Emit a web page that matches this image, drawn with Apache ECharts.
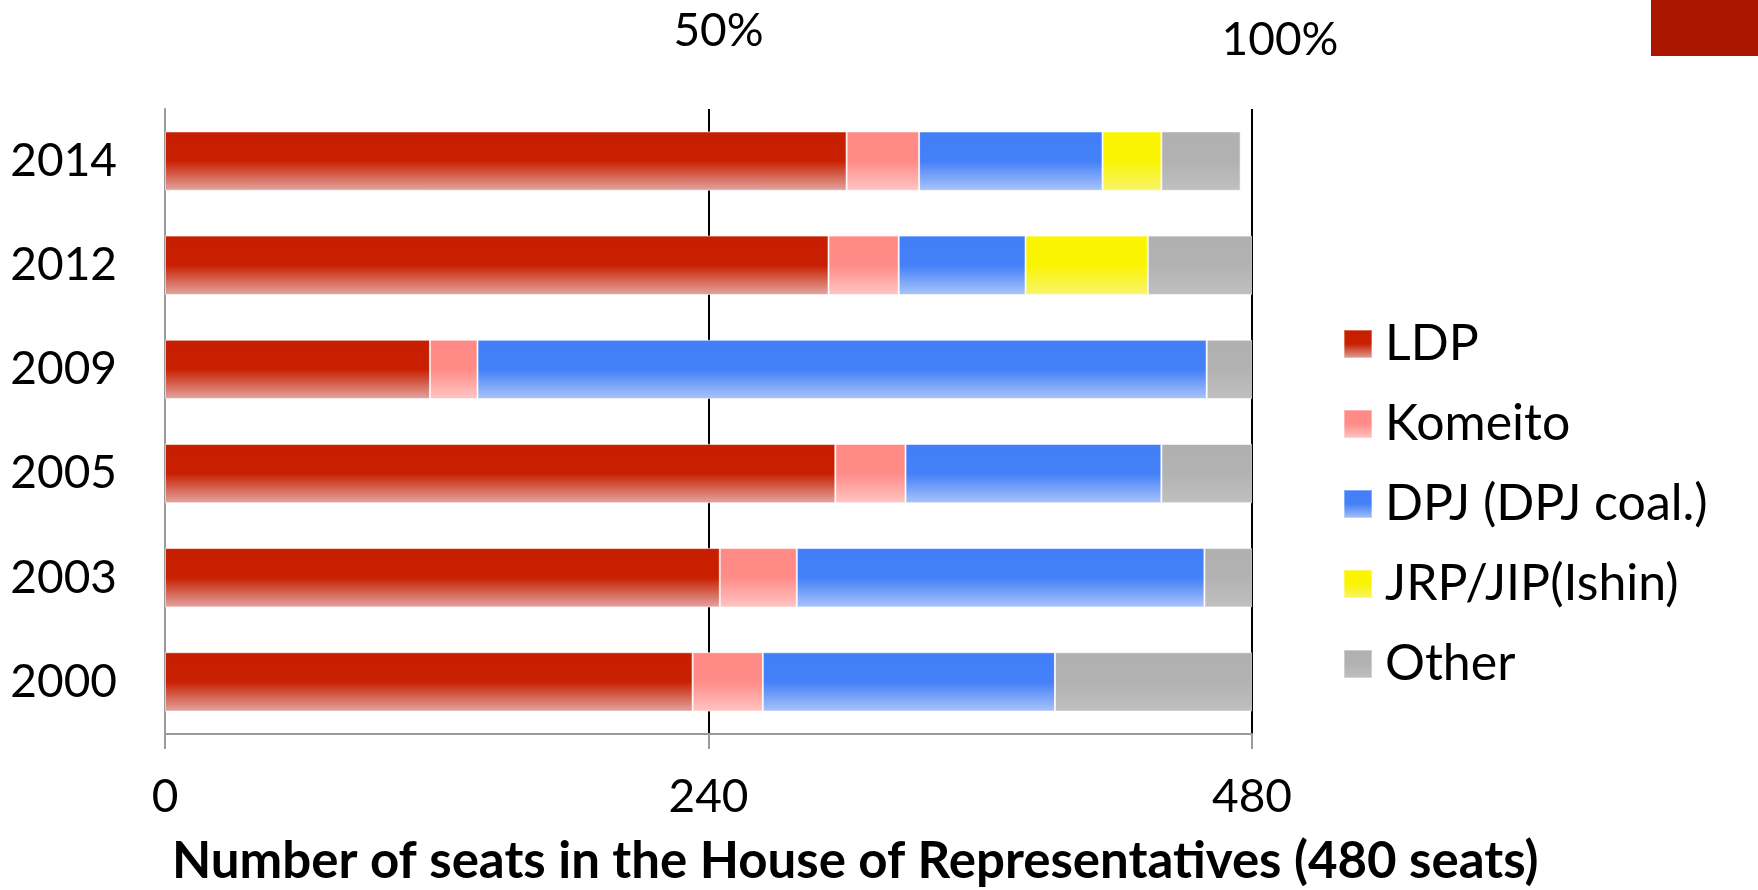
<!DOCTYPE html>
<html>
<head>
<meta charset="utf-8">
<script src="https://cdn.jsdelivr.net/npm/echarts@6/dist/echarts.min.js"></script>
<style>
html,body{margin:0;padding:0;background:#fff;}
#chart{width:1758px;height:890px;}
</style>
</head>
<body>
<div id="chart"></div>
<script>
// Years listed top to bottom
const years = ['2014', '2012', '2009', '2005', '2003', '2000'];
const ldp     = [301, 293, 117, 296, 245, 233];
const komeito = [32, 31, 21, 31, 34, 31];
const dpj     = [81, 56, 322, 113, 180, 129];
const ishin   = [26, 54, 0, 0, 0, 0];
const other   = [35, 46, 20, 40, 21, 87];
const seriesNames = ['LDP', 'Komeito', 'DPJ (DPJ coal.)', 'JRP/JIP(Ishin)', 'Other'];
const xTicks = [0, 240, 480];
const topLabels = [{v: 240, t: '50%'}, {v: 480, t: '100%'}];
const axisTitle = 'Number of seats in the House of Representatives (480 seats)';

const FONT = 'Lato, "Open Sans", sans-serif';
function grad(c0, c1, c2) {
  return new echarts.graphic.LinearGradient(0, 0, 0, 1, [
    {offset: 0, color: c0}, {offset: 0.5, color: c1}, {offset: 1, color: c2}
  ]);
}
const colors = [
  grad('#C81E00', '#C92002', '#E2A7A2'),
  grad('#FF8985', '#FF8C88', '#FFC6C4'),
  grad('#427EF7', '#4480F7', '#AAC4FA'),
  grad('#FAF500', '#FAF404', '#F8F46C'),
  grad('#B0B0B0', '#B2B2B2', '#C0C0C0')
];
const dataSets = [ldp, komeito, dpj, ishin, other];

const chart = echarts.init(document.getElementById('chart'), null, {renderer: 'canvas'});
const series = dataSets.map((d, i) => ({
  name: seriesNames[i],
  type: 'bar',
  stack: 'seats',
  data: d,
  barCategoryGap: '43%',
  itemStyle: {color: colors[i], borderColor: 'rgba(255,255,255,0.35)', borderWidth: 1},
  emphasis: {disabled: true}
}));

const option = {
  animation: false,
  grid: {left: 165, right: 506, top: 109, bottom: 156, containLabel: false},
  title: {
    text: axisTitle,
    left: 172,
    top: 836,
    padding: 0,
    textStyle: {fontFamily: FONT, fontWeight: 'bold', fontSize: 51, color: '#000'}
  },
  legend: {
    orient: 'vertical',
    left: 1338,
    top: 313,
    itemWidth: 28,
    itemHeight: 28,
    itemGap: 28,
    icon: 'rect',
    data: seriesNames,
    textStyle: {fontFamily: FONT, fontSize: 50, color: '#000', lineHeight: 52, padding: [0, 0, 0, 8]}
  },
  xAxis: {
    type: 'value',
    min: 0,
    max: 480,
    interval: 240,
    axisLine: {show: true, lineStyle: {color: '#9a9a9a', width: 2}},
    axisTick: {show: true, length: 15, lineStyle: {color: '#9a9a9a', width: 2}},
    axisLabel: {fontFamily: FONT, fontSize: 46, color: '#000', margin: 40,
      formatter: v => xTicks.indexOf(v) >= 0 ? String(v) : ''},
    splitLine: {show: true, showMinLine: false, lineStyle: {color: '#000', width: 2}}
  },
  yAxis: {
    type: 'category',
    inverse: true,
    data: years,
    axisLine: {show: true, lineStyle: {color: '#9a9a9a', width: 2}},
    axisTick: {show: false},
    axisLabel: {fontFamily: FONT, fontSize: 46, color: '#000', margin: 48}
  },
  series: series
};
chart.setOption(option);

// Top percentage annotations positioned through the x scale
const offs = [{dx: 10, y: 31}, {dx: 28, y: 40}];
const g = topLabels.map((o, i) => {
  const px = chart.convertToPixel({xAxisIndex: 0}, o.v);
  return {
    type: 'text',
    x: px + offs[i].dx,
    y: offs[i].y,
    style: {text: o.t, font: '46px ' + FONT, fill: '#000', align: 'center', verticalAlign: 'middle'}
  };
});
g.push({type: 'rect', shape: {x: 1651, y: 0, width: 107, height: 56}, style: {fill: '#AA1500'}});
chart.setOption({graphic: g});
</script>
</body>
</html>
